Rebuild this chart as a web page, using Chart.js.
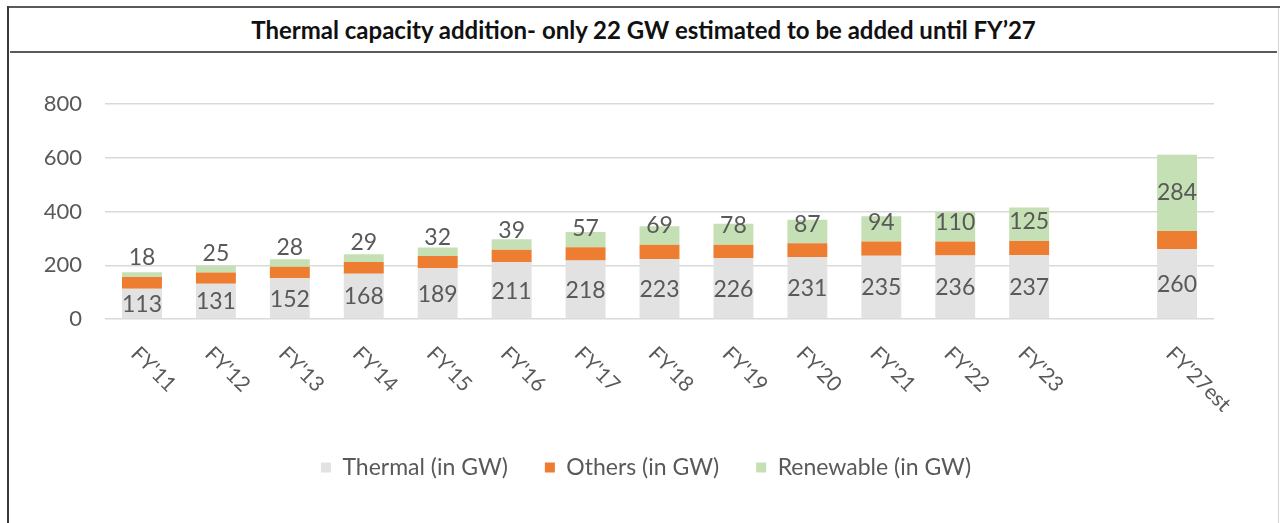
<!DOCTYPE html>
<html>
<head>
<meta charset="utf-8">
<script src="https://cdn.jsdelivr.net/npm/chart.js@4"></script>
<style>
    html, body { margin: 0; padding: 0; background: #fff; }
    #wrap { position: relative; width: 1280px; height: 523px; overflow: hidden; }
    #frameTop { position: absolute; left: 7px; top: 6px; width: 1273px; height: 2px; background: #5a5a5a; }
    #frameLeft { position: absolute; left: 7px; top: 6px; width: 2px; height: 520px; background: #3a3a3a; }
    #frameRight { position: absolute; left: 1278px; top: 8px; width: 1px; height: 520px; background: #d4d4d4; }
    #titleLine { position: absolute; left: 10px; top: 51px; width: 1267px; height: 2px; background: #5a5a5a; }
    #title {
        position: absolute; left: 9px; top: 8px; width: 1269px; height: 43px;
        line-height: 43px; text-align: center;
        font-family: Lato, "Open Sans", sans-serif; font-weight: bold; font-size: 24px; color: #111;
    }
    #chartBox { position: absolute; left: 0; top: 0; width: 1280px; height: 523px; }
</style>
</head>
<body>
<div id="wrap">
    <div id="frameTop"></div>
    <div id="frameLeft"></div>
    <div id="frameRight"></div>
    <div id="titleLine"></div>
    <div id="title">Thermal capacity addition- only 22 GW estimated to be added until FY’27</div>
    <div id="chartBox"><canvas id="capChart" width="1280" height="523"></canvas></div>
</div>
<script>
/* categories (blank slot between FY'23 and FY'27est) */
var categories = ["FY'11", "FY'12", "FY'13", "FY'14", "FY'15", "FY'16", "FY'17",
                  "FY'18", "FY'19", "FY'20", "FY'21", "FY'22", "FY'23", "", "FY'27est"];

/* series values, GW */
var thermal   = [113, 131, 152, 168, 189, 211, 218, 223, 226, 231, 235, 236, 237, null, 260];
var others    = [43, 42, 42, 44, 45, 47, 49, 53, 50, 51, 53, 52, 53, null, 67];
var renewable = [18, 25, 28, 29, 32, 39, 57, 69, 78, 87, 94, 110, 125, null, 284];

/* y axis ticks */
var yTicks = [0, 200, 400, 600, 800];

var textGrey = '#595959';
var numFont  = 'Lato, "Open Sans", sans-serif';

/* draw value labels + rotated category labels */
var labelPlugin = {
    id: 'labelPlugin',
    afterLayout: function (chart) {
        // legend sits centred under the plot rather than the whole canvas
        if (chart.legend) chart.legend.left = 78;
    },
    afterDatasetsDraw: function (chart) {
        var ctx = chart.ctx;
        ctx.save();
        ctx.fillStyle = textGrey;
        ctx.font = '23px ' + numFont;
        ctx.textAlign = 'center';
        ctx.textBaseline = 'middle';

        // thermal labels - centre of segment
        chart.getDatasetMeta(0).data.forEach(function (bar, i) {
            if (thermal[i] == null) return;
            var mid = (bar.y + bar.base) / 2;
            ctx.fillText(String(thermal[i]), bar.x, mid + 1);
        });

        // renewable labels - centre, pushed up when the segment is thin
        chart.getDatasetMeta(2).data.forEach(function (bar, i) {
            if (renewable[i] == null) return;
            var mid = (bar.y + bar.base) / 2;
            var y = Math.min(mid, bar.base - 19);
            ctx.fillText(String(renewable[i]), bar.x, y);
        });

        // x labels rotated 45deg clockwise, hanging from the tick
        var xs = chart.scales.x;
        var top = chart.chartArea.bottom + 24;
        ctx.font = '21px ' + numFont;
        ctx.textAlign = 'left';
        ctx.textBaseline = 'top';
        categories.forEach(function (lab, i) {
            if (!lab) return;
            var x = xs.getPixelForValue(i);
            ctx.save();
            ctx.translate(x, top);
            ctx.rotate(Math.PI / 4);
            ctx.fillText(lab, 0, 0);
            ctx.restore();
        });
        ctx.restore();
    }
};

new Chart(document.getElementById('capChart').getContext('2d'), {
    type: 'bar',
    data: {
        labels: categories,
        datasets: [
            { label: 'Thermal (in GW)',   data: thermal,   backgroundColor: '#E2E2E2' },
            { label: 'Others (in GW)',    data: others,    backgroundColor: '#ED7D31' },
            { label: 'Renewable (in GW)', data: renewable, backgroundColor: '#C5E0B4' }
        ]
    },
    options: {
        responsive: false,
        animation: false,
        datasets: { bar: { categoryPercentage: 1, barPercentage: 0.54 } },
        layout: { padding: { top: 104, right: 66, bottom: 34, left: 0 } },
        plugins: {
            legend: {
                position: 'bottom',
                labels: {
                    boxWidth: 10, boxHeight: 10, padding: 37,
                    color: textGrey, font: { family: numFont, size: 23 }
                }
            },
            tooltip: { enabled: false }
        },
        scales: {
            x: {
                stacked: true,
                grid: { display: false },
                border: { display: false },
                ticks: { display: false },
                afterFit: function (s) { s.height = 100; }
            },
            y: {
                stacked: true,
                min: 0, max: 800,
                afterBuildTicks: function (s) { s.ticks = yTicks.map(function (v) { return { value: v }; }); },
                grid: { color: '#D9D9D9', lineWidth: 1.5, drawTicks: false },
                border: { display: false },
                ticks: { color: textGrey, padding: 23, font: { family: numFont, size: 22 } },
                afterFit: function (s) { s.width = 105; }
            }
        }
    },
    plugins: [labelPlugin]
});
</script>
</body>
</html>
